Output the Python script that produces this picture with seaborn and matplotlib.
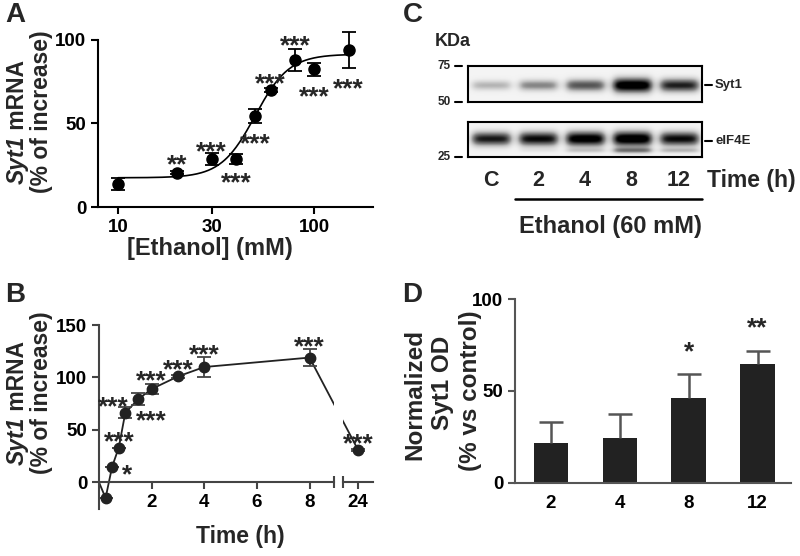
import numpy as np
import pandas as pd
import matplotlib
matplotlib.use('Agg')
import matplotlib.pyplot as plt
import seaborn as sns

# ---------------- data ----------------
# Panel A: concentration response
conc_mM = [10, 20, 30, 40, 50, 60, 80, 100, 150]
syt1_conc = [13.8, 20.5, 28.7, 29.0, 54.5, 70.0, 88.0, 82.4, 94.0]
syt1_conc_err = [3.5, 1.0, 3.5, 3.0, 4.0, 1.0, 6.5, 4.0, 11.0]
conc_stars = ['', '**', '***', '***', '***', '***', '***', '***', '***']
conc_star_off = [(0, 0), (0, -16), (0, -16), (0, 16), (0, 19), (0, -15), (0, -23), (0, 19), (0, 30)]
fit_bottom, fit_top, fit_ec50, fit_hill = 17.5, 91.5, 50.0, 5.0
conc_ticks = [10, 30, 100]

# Panel B: time course
time_h = [0, 0.25, 0.5, 0.75, 1, 1.5, 2, 3, 4, 8, 24]
syt1_time = [0, -15, 15, 33, 66.4, 79.5, 89, 101, 110, 119, 31]
syt1_time_err = [0, 0, 0, 0, 5, 6, 5, 1.5, 10, 8, 1]
time_stars = ['', '', '*', '***', '***', '***', '***', '***', '***', '***', '***']
time_star_off = [(0, 0), (0, 0), (15, 0), (1, -14), (-12, -14), (13, 14), (0, -17), (0, -15), (0, -21), (0, -19), (0, -14)]
time_ticks = [2, 4, 6, 8]

# Panel C: western blot
lane_labels = ['C', '2', '4', '8', '12']
syt1_band = [0.30, 0.45, 0.62, 1.0, 0.78]
eif4e_band = [0.80, 0.85, 0.95, 1.0, 0.85]
eif4e_lower_band = [0.0, 0.05, 0.18, 0.45, 0.25]
mw_markers = ['75', '50', '25']

# Panel D: densitometry
wb_time = ['2', '4', '8', '12']
syt1_od = [21.8, 24.2, 46.3, 64.6]
syt1_od_err = [11.0, 13.4, 12.8, 7.2]
od_stars = ['', '', '*', '**']

# ---------------- style ----------------
sns.set_theme(style='ticks')
plt.rcParams['font.family'] = ['Liberation Sans', 'DejaVu Sans']
plt.rcParams['font.weight'] = 'bold'

W, H = 800, 556
fig = plt.figure(figsize=(8, 5.56), dpi=100)
renderer = fig.canvas.get_renderer()


def rect(x0, y0, x1, y1):
    return [x0 / W, 1 - y1 / H, (x1 - x0) / W, (y1 - y0) / H]


def ftext(x, y, s, **kw):
    return fig.text(x / W, 1 - y / H, s, **kw)


def rot_label(xc, yc, parts, size):
    objs = [fig.text(xc / W, 0.5, s, rotation=90, ha='center', va='bottom',
                     fontsize=size, fontweight='bold', style=st) for s, st in parts]
    lens = [t.get_window_extent(renderer).height for t in objs]
    yb = (H - yc) - sum(lens) / 2
    for t, L in zip(objs, lens):
        t.set_position((xc / W, yb / H))
        yb += L


TICK = 13.5
LAB = 16.5
STAR = 19
LET = 20
STAR_SHIFT = 0.60 * STAR * 100 / 72  # px from baseline to star centre


def style_axis(ax, color='black'):
    for s in ['top', 'right']:
        ax.spines[s].set_visible(False)
    for s in ['left', 'bottom']:
        ax.spines[s].set_linewidth(1.5)
        ax.spines[s].set_color(color)
    ax.tick_params(direction='out', length=5, width=1.5, colors=color,
                   labelsize=TICK, labelcolor='black')
    for lab in ax.get_xticklabels() + ax.get_yticklabels():
        lab.set_fontweight('bold')


def stars(ax, xs, ys, labels, offs):
    for x, y, s, (dx, dy) in zip(xs, ys, labels, offs):
        if s:
            ax.annotate(s, (x, y), xytext=(dx, -dy - STAR_SHIFT), textcoords='offset pixels',
                        ha='center', va='baseline', fontsize=STAR, fontweight='bold',
                        annotation_clip=False)

# ---------------- Panel A ----------------
axA = fig.add_axes(rect(98, 23.3, 373, 207))
xfit = np.logspace(np.log10(conc_mM[0]), np.log10(conc_mM[-1]), 200)
yfit = fit_bottom + (fit_top - fit_bottom) / (1 + (fit_ec50 / xfit) ** fit_hill)
sns.lineplot(x=xfit, y=yfit, ax=axA, color='black', lw=1.2)
axA.errorbar(conc_mM, syt1_conc, yerr=syt1_conc_err, fmt='o', color='black', ms=8,
             capsize=5, elinewidth=1.3, capthick=1.3)
axA.set_xscale('log')
axA.set_xlim(7.9, 200)
axA.set_ylim(0, 110)
axA.set_xticks(conc_ticks)
axA.set_xticklabels([str(t) for t in conc_ticks])
axA.minorticks_off()
axA.set_yticks([0, 50, 100])
axA.spines['left'].set_bounds(0, 100)
style_axis(axA)
stars(axA, conc_mM, syt1_conc, conc_stars, conc_star_off)
ftext(210, 249, '[Ethanol] (mM)', ha='center', va='center', fontsize=LAB + 0.5, fontweight='bold')
rot_label(17, 122, [('Syt1', 'italic'), (' mRNA', 'normal')], LAB)
rot_label(42, 112, [('(% of increase)', 'normal')], LAB)
ftext(5, 15, 'A', ha='left', va='center', fontsize=LET, fontweight='bold')

# ---------------- Panel B ----------------
GRAY = '#444444'
yb0, yb1 = -25.5, 150
ax1 = fig.add_axes(rect(99, 325.1, 334, 509))
ax2 = fig.add_axes(rect(343, 325.1, 373, 509))
ax1.set_xlim(0, 8.93)
ax2.set_xlim(23.43, 24.57)
for ax in (ax1, ax2):
    ax.set_ylim(yb0, yb1)
    ax.spines['bottom'].set_position(('data', 0))
    style_axis(ax, color=GRAY)
ax2.spines['left'].set_visible(False)
ax2.tick_params(axis='y', left=False, labelleft=False)
ax1.set_yticks([0, 50, 100, 150])
ax1.set_xticks(time_ticks)
ax1.set_xticklabels([str(t) for t in time_ticks])
ax1.set_xticks([8.93], minor=True)
ax2.set_xticks([24])
ax2.set_xticklabels(['24'])
ax2.set_xticks([23.43], minor=True)
for ax in (ax1, ax2):
    ax.tick_params(which='minor', direction='inout', length=9, width=1.5, colors=GRAY)
    for lab in ax.get_xticklabels():
        lab.set_fontweight('bold')

df_b = pd.DataFrame({'t': time_h, 'v': syt1_time, 'e': syt1_time_err})
early = df_b[df_b.t <= 8]
late = df_b[df_b.t > 8]
sns.lineplot(data=early, x='t', y='v', ax=ax1, color='#222222', lw=1.3)
ax1.set_xlabel('')
ax1.set_ylabel('')
# segment across the axis break
p8 = (early.t.iloc[-1], early.v.iloc[-1])
p24 = (late.t.iloc[0], late.v.iloc[0])
p24_in1 = ax1.transData.inverted().transform(ax2.transData.transform(p24))
p8_in2 = ax2.transData.inverted().transform(ax1.transData.transform(p8))
ax1.plot([p8[0], p24_in1[0]], [p8[1], p24_in1[1]], color='#222222', lw=1.3, clip_on=True)
ax2.plot([p8_in2[0], p24[0]], [p8_in2[1], p24[1]], color='#222222', lw=1.3, clip_on=True)
pts = df_b[df_b.t > 0]
for ax, d in ((ax1, pts[pts.t <= 8]), (ax2, pts[pts.t > 8])):
    ax.errorbar(d.t, d.v, yerr=d.e, fmt='o', color='#222222', ms=7.5, capsize=5,
                elinewidth=1.3, capthick=1.3, ecolor=GRAY, clip_on=False)
sel1 = [i for i, t in enumerate(time_h) if t <= 8]
sel2 = [i for i, t in enumerate(time_h) if t > 8]
stars(ax1, [time_h[i] for i in sel1], [syt1_time[i] for i in sel1],
      [time_stars[i] for i in sel1], [time_star_off[i] for i in sel1])
stars(ax2, [time_h[i] for i in sel2], [syt1_time[i] for i in sel2],
      [time_stars[i] for i in sel2], [time_star_off[i] for i in sel2])
ftext(240, 537, 'Time (h)', ha='center', va='center', fontsize=LAB, fontweight='bold')
rot_label(17, 403, [('Syt1', 'italic'), (' mRNA', 'normal')], LAB)
rot_label(42, 393, [('(% of increase)', 'normal')], LAB)
ftext(5, 295, 'B', ha='left', va='center', fontsize=LET, fontweight='bold')

# ---------------- Panel C ----------------
def blot(bands):
    ny, nl, per = 60, len(lane_labels), 60
    yy = np.linspace(0, 1, ny)[:, None]
    xx = (np.arange(nl * per) + 0.5)[None, :] / per
    img = np.full((ny, nl * per), 0.09)
    for amps, yc, sig0 in bands:
        for i, a in enumerate(amps):
            if a <= 0:
                continue
            gx = 1 / (1 + np.exp((np.abs(xx - (i + 0.5)) - 0.40) / 0.05))
            sig = sig0 * (0.7 + 0.6 * a)
            gy = np.exp(-0.5 * ((yy - yc) / sig) ** 2)
            img += a * 1.05 * gx * gy
    return np.clip(img, 0, 1)

bx0, bx1 = 467.7, 701.7
blots = [((65.7, 101.7), [(syt1_band, 0.55, 0.11)], 'Syt1'),
         ((121.7, 156.7), [(eif4e_band, 0.48, 0.12), (eif4e_lower_band, 0.82, 0.06)], 'eIF4E')]
for (y0, y1), bands, name in blots:
    axb = fig.add_axes(rect(bx0, y0, bx1, y1))
    axb.imshow(blot(bands), cmap='Greys', vmin=0, vmax=1, aspect='auto',
               extent=(0, len(lane_labels), 1, 0), interpolation='bilinear')
    axb.set_xticks([])
    axb.set_yticks([])
    for s in axb.spines.values():
        s.set_visible(True)
        s.set_linewidth(1.5)
        s.set_color('black')
    ymid = (y0 + y1) / 2 + 1.5
    fig.add_artist(plt.Line2D([705 / W, 712 / W], [1 - ymid / H] * 2, color='black', lw=1.5))
    ftext(715, ymid, name, ha='left', va='center', fontsize=9.5, fontweight='bold')

for lab, yy in zip(mw_markers, [65.7, 101.7, 156.7]):
    fig.add_artist(plt.Line2D([455 / W, 462 / W], [1 - yy / H] * 2, color='black', lw=1.5))
    ftext(451, yy, lab, ha='right', va='center', fontsize=8.5, fontweight='bold')

lane_w = (bx1 - bx0) / len(lane_labels)
for i, lab in enumerate(lane_labels):
    ftext(bx0 + (i + 0.5) * lane_w, 180, lab, ha='center', va='center', fontsize=15.5, fontweight='bold')
ftext(707, 180, 'Time (h)', ha='left', va='center', fontsize=LAB, fontweight='bold')
fig.add_artist(plt.Line2D([515 / W, 701.7 / W], [1 - 199 / H] * 2, color='black', lw=1.8))
ftext(610, 227, 'Ethanol (60 mM)', ha='center', va='center', fontsize=LAB + 0.5, fontweight='bold')
ftext(435, 42, 'KDa', ha='left', va='center', fontsize=13, fontweight='bold')
ftext(403, 15, 'C', ha='left', va='center', fontsize=LET, fontweight='bold')

# ---------------- Panel D ----------------
GRAY_D = '#555555'
axD = fig.add_axes(rect(515, 299, 790.7, 482.7))
df_d = pd.DataFrame({'time': wb_time, 'od': syt1_od, 'err': syt1_od_err})
sns.barplot(data=df_d, x='time', y='od', order=wb_time, color='#222222', width=0.5,
            saturation=1, errorbar=None, ax=axD, edgecolor='none')
eb = axD.errorbar(range(len(wb_time)), syt1_od, yerr=[np.zeros(len(wb_time)), syt1_od_err],
                  fmt='none', ecolor=GRAY_D, elinewidth=1.8, capsize=8.5, capthick=1.8, zorder=3)
eb[1][0].set_visible(False)  # upper error bars only
axD.set_xlim(-0.52, 3.48)
axD.set_ylim(0, 100)
axD.set_yticks([0, 50, 100])
axD.set_xlabel('')
axD.set_ylabel('')
style_axis(axD, color=GRAY_D)
axD.tick_params(axis='x', length=0, pad=9)
top = [v + e for v, e in zip(syt1_od, syt1_od_err)]
stars(axD, range(len(wb_time)), top, od_stars, [(0, -31)] * len(wb_time))
rot_label(415, 395, [('Normalized', 'normal')], LAB + 1)
rot_label(443, 383, [('Syt1 OD', 'normal')], LAB + 1)
rot_label(470, 391, [('(% vs control)', 'normal')], LAB + 1)
ftext(402, 295, 'D', ha='left', va='center', fontsize=LET, fontweight='bold')

fig.savefig('out.png', dpi=100)
